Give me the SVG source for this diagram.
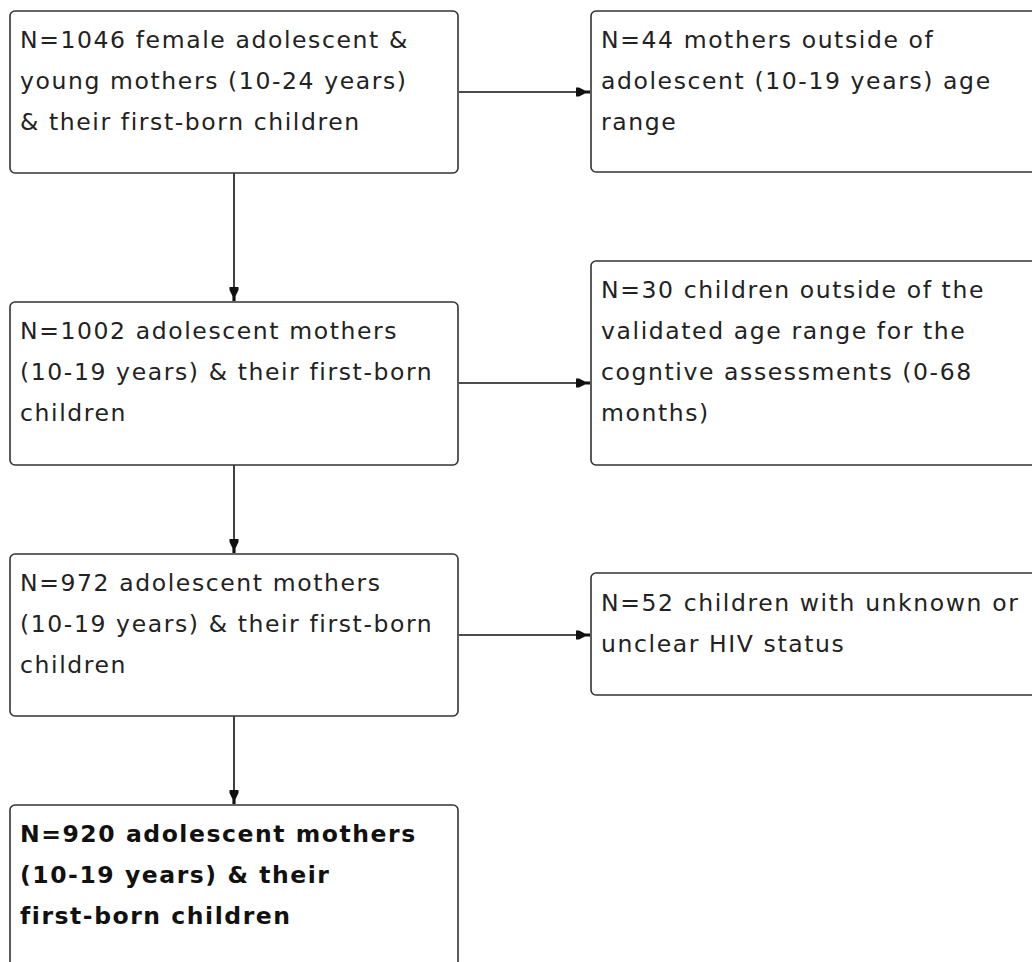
<svg xmlns="http://www.w3.org/2000/svg" width="1032" height="962" viewBox="0 0 1032 962">
<style>
.box{fill:#fff;stroke:#333;stroke-width:1.6}
.t{font-family:"DejaVu Sans",Verdana,sans-serif;font-size:23.5px;letter-spacing:1.6px;fill:#222}
.b{font-weight:bold;fill:#111;letter-spacing:1.55px}
.c{stroke:#111;stroke-width:1.6;fill:none;marker-end:url(#ah)}
</style>
<defs>
<marker id="ah" markerUnits="userSpaceOnUse" markerWidth="16" markerHeight="12" viewBox="-15 -6 16 12" refX="0" refY="0" orient="auto">
<path d="M-14,-4.5 L-11,-4.5 L-5,-1.6 L0,-1.6 L0,1.6 L-5,1.6 L-11,4.5 L-14,4.5 Z" fill="#111"/>
</marker>
</defs>
<rect width="1032" height="962" fill="#fff"/>
<g id="connectors">
<path class="c" d="M459,92 H590"/>
<path class="c" d="M459,383 H590"/>
<path class="c" d="M459,635 H590"/>
<path class="c" d="M234,173 V301"/>
<path class="c" d="M234,465 V553"/>
<path class="c" d="M234,716 V804"/>
</g>
<g id="n1046">
<rect class="box" x="10" y="11" width="448" height="162" rx="5"/>
<text class="t" x="20" y="48">N=1046 female adolescent &amp;</text>
<text class="t" x="20" y="89">young mothers (10-24 years)</text>
<text class="t" x="20" y="130">&amp; their first-born children</text>
</g>
<g id="n44">
<rect class="box" x="591" y="11" width="460" height="161" rx="5"/>
<text class="t" x="601" y="48">N=44 mothers outside of</text>
<text class="t" x="601" y="89">adolescent (10-19 years) age</text>
<text class="t" x="601" y="130">range</text>
</g>
<g id="n1002">
<rect class="box" x="10" y="302" width="448" height="163" rx="5"/>
<text class="t" x="20" y="339">N=1002 adolescent mothers</text>
<text class="t" x="20" y="380">(10-19 years) &amp; their first-born</text>
<text class="t" x="20" y="421">children</text>
</g>
<g id="n30">
<rect class="box" x="591" y="261" width="460" height="204" rx="5"/>
<text class="t" x="601" y="298">N=30 children outside of the</text>
<text class="t" x="601" y="339">validated age range for the</text>
<text class="t" x="601" y="380">cogntive assessments (0-68</text>
<text class="t" x="601" y="421">months)</text>
</g>
<g id="n972">
<rect class="box" x="10" y="554" width="448" height="162" rx="5"/>
<text class="t" x="20" y="591">N=972 adolescent mothers</text>
<text class="t" x="20" y="632">(10-19 years) &amp; their first-born</text>
<text class="t" x="20" y="673">children</text>
</g>
<g id="n52">
<rect class="box" x="591" y="573" width="460" height="122" rx="5"/>
<text class="t" x="601" y="611">N=52 children with unknown or</text>
<text class="t" x="601" y="652">unclear HIV status</text>
</g>
<g id="n920">
<rect class="box" x="10" y="805" width="448" height="200" rx="5"/>
<text class="t b" x="20" y="842">N=920 adolescent mothers</text>
<text class="t b" x="20" y="883">(10-19 years) &amp; their</text>
<text class="t b" x="20" y="924">first-born children</text>
</g>
</svg>
